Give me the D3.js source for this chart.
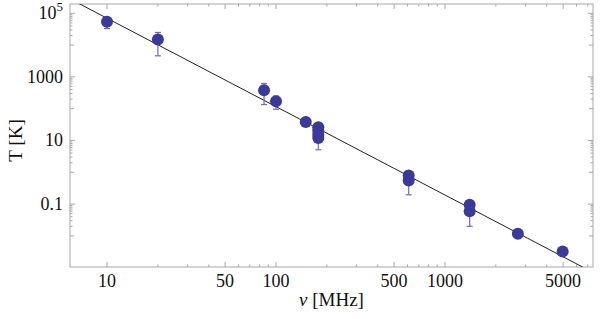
<!DOCTYPE html>
<html>
<head>
<meta charset="utf-8">
<script src="https://cdn.jsdelivr.net/npm/d3@7"></script>
<style>
  body { margin: 0; background: #fff; }
  svg text { font-family: "Liberation Serif", "Times New Roman", Times, serif; fill: #111; }
</style>
</head>
<body>
<svg id="chart" width="600" height="319"></svg>
<script>
"use strict";

// frequencies (MHz) and brightness temperatures (K)
var freqs = [10, 20, 85, 100, 150, 178, 178, 178, 178, 610, 610, 1400, 1400, 2700, 4970]
var temps = [5.4e4, 1.5e4, 380, 172, 38, 26, 20.5, 15.4, 12, 0.79, 0.55, 0.095, 0.059, 0.0116, 0.0032]
var errLow = [3.3e4, 4.6e3, 135, 96, null, null, null, null, 5.1, null, 0.196, null, 0.020, null, null]
var errHigh = [7e4, 2.5e4, 620, 250, null, null, null, null, 15, null, 0.8, null, 0.08, null, null]

// power law fit T = amp * nu^index
var fitAmp = Math.pow(10, 7.625)
var fitIndex = -2.78

var xLabels = [10, 50, 100, 500, 1000, 5000]
var yLabels = [1e5, 1000, 10, 0.1]

var margin = {left: 70, right: 7, top: 4, bottom: 52}
var svg = d3.select("#chart")
var width = +svg.attr("width") - margin.left - margin.right
var height = +svg.attr("height") - margin.top - margin.bottom

var x = d3.scaleLog().domain([6.04, 7516]).range([0, width])
var y = d3.scaleLog().domain([1.05e-3, 1.96e5]).range([height, 0])

var g = svg.append("g").attr("transform", "translate(" + margin.left + "," + margin.top + ")")

var frameColor = "#a8a8a8"

// ticks: x minor at j*10^k, y minor only in the decade under each labelled power
var xMinor = []
for (var k = 1; k <= 3; k++) {
  for (var j = 1; j <= 9; j++) {
    var v = j * Math.pow(10, k)
    if (v <= 7516 && xLabels.indexOf(v) < 0) xMinor.push(v)
  }
}
var yMinor = [], yMedium = []
yLabels.forEach(p => {
  yMedium.push(p / 10)
  for (var j = 2; j <= 9; j++) yMinor.push(j * p / 10)
})

function tickGroup(vals, len, scale, horizontal) {
  vals.forEach(v => {
    var p = scale(v)
    if (horizontal) {
      g.append("line").attr("x1", p).attr("x2", p).attr("y1", height).attr("y2", height - len)
        .attr("stroke", frameColor)
      g.append("line").attr("x1", p).attr("x2", p).attr("y1", 0).attr("y2", len)
        .attr("stroke", frameColor)
    } else {
      g.append("line").attr("y1", p).attr("y2", p).attr("x1", 0).attr("x2", len)
        .attr("stroke", frameColor)
      g.append("line").attr("y1", p).attr("y2", p).attr("x1", width).attr("x2", width - len)
        .attr("stroke", frameColor)
    }
  })
}
tickGroup(xLabels, 5, x, true)
tickGroup(xMinor, 2.5, x, true)
tickGroup(yLabels, 5, y, false)
tickGroup(yMedium, 4, y, false)
tickGroup(yMinor, 2.5, y, false)

g.append("rect")
  .attr("width", width).attr("height", height)
  .attr("fill", "none").attr("stroke", frameColor).attr("stroke-width", 1)

// tick labels
g.selectAll(".xlab").data(xLabels).enter().append("text")
  .attr("x", d => x(d)).attr("y", height + 20)
  .attr("text-anchor", "middle").attr("font-size", 18)
  .text(d => d)

var ylab = g.selectAll(".ylab").data(yLabels).enter().append("text")
  .attr("x", -7).attr("y", d => y(d) + 6)
  .attr("text-anchor", "end").attr("font-size", 18)
ylab.each(function(d) {
  var t = d3.select(this)
  if (d >= 1e5) {
    t.append("tspan").text("10")
    t.append("tspan").attr("dy", -8).attr("font-size", 13).text(Math.round(Math.log10(d)))
  } else {
    t.text(d)
  }
})

// axis titles
svg.append("text")
  .attr("x", margin.left + width / 2).attr("y", 306)
  .attr("text-anchor", "middle").attr("font-size", 19)
  .html('<tspan font-style="italic">ν</tspan> [MHz]')

svg.append("text")
  .attr("transform", "translate(22," + (margin.top + y(10)) + ") rotate(-90)")
  .attr("text-anchor", "middle").attr("font-size", 19)
  .text("T [K]")

// fit line, clipped to the frame
svg.append("clipPath").attr("id", "clip")
  .append("rect").attr("width", width).attr("height", height)

var fitX = x.domain()
var line = d3.line()
  .x(d => x(d))
  .y(d => y(fitAmp * Math.pow(d, fitIndex)))

g.append("path")
  .datum(fitX)
  .attr("d", line)
  .attr("fill", "none")
  .attr("stroke", "#222")
  .attr("stroke-width", 1)
  .attr("clip-path", "url(#clip)")

// error bars
var pointColor = "#3a3a9a"
var errColor = "#6c6cb8"
freqs.forEach((f, i) => {
  if (errLow[i] == null) return
  var px = x(f)
  g.append("line").attr("x1", px).attr("x2", px)
    .attr("y1", y(errLow[i])).attr("y2", y(errHigh[i]))
    .attr("stroke", errColor).attr("stroke-width", 1.2)
  ;[errLow[i], errHigh[i]].forEach(v => {
    g.append("line").attr("x1", px - 3).attr("x2", px + 3)
      .attr("y1", y(v)).attr("y2", y(v))
      .attr("stroke", errColor).attr("stroke-width", 1.2)
  })
})

// points
g.selectAll(".pt").data(freqs).enter().append("circle")
  .attr("cx", d => x(d))
  .attr("cy", (d, i) => y(temps[i]))
  .attr("r", 6)
  .attr("fill", pointColor)
</script>
</body>
</html>
